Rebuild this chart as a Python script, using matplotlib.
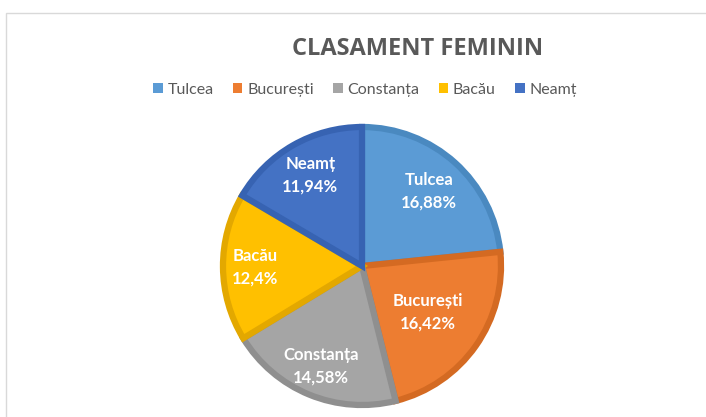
import matplotlib.pyplot as plt
import numpy as np
from matplotlib.patches import Patch, Rectangle

plt.rcParams['font.family'] = ['Lato', 'DejaVu Sans']

# data
judete = ['Tulcea', 'București', 'Constanța', 'Bacău', 'Neamț']
procente = [16.88, 16.42, 14.58, 12.4, 11.94]
etichete = ['16,88%', '16,42%', '14,58%', '12,4%', '11,94%']

culori = ['#5B9BD5', '#ED7D31', '#A5A5A5', '#FFC000', '#4472C4']
margini = ['#4A89C0', '#D46A22', '#8F8F8F', '#E3A800', '#3763B2']
# distance of each label from the centre (fraction of radius)
dist_label = [0.72, 0.58, 0.78, 0.77, 0.75]

W, H = 706, 417
fig = plt.figure(figsize=(W / 100, H / 100), dpi=100)
ax = fig.add_axes([0, 0, 1, 1])

cx, cy, r = 362, H - 266, 139

wedges, _ = ax.pie(procente, colors=culori, startangle=90, counterclock=False,
                   center=(cx, cy), radius=r, explode=[0.012] * 5,
                   wedgeprops=dict(linewidth=4.5, joinstyle='miter'))
for w, c in zip(wedges, margini):
    w.set_edgecolor(c)

# labels inside the slices
for w, nume, et, d in zip(wedges, judete, etichete, dist_label):
    ang = np.deg2rad((w.theta1 + w.theta2) / 2)
    x = cx + d * r * np.cos(ang)
    y = cy + d * r * np.sin(ang)
    ax.text(x, y, nume + '\n' + et, ha='center', va='center', color='white',
            fontsize=12, fontweight='bold', linespacing=1.5)

ax.set_xlim(0, W)
ax.set_ylim(0, H)
ax.set_aspect('equal')
ax.axis('off')

# chart frame
ax.add_patch(Rectangle((6, -20), W, H - 13 + 20, fill=False, edgecolor='#D9D9D9', linewidth=1))

fig.text(418 / W, 1 - 49 / H, 'CLASAMENT FEMININ', ha='center', va='center',
         fontsize=17, fontweight='bold', color='#595959', family='Open Sans')

handles = [Patch(facecolor=c, edgecolor='none') for c in culori]
fig.legend(handles, judete, loc='center', bbox_to_anchor=(365 / W, 1 - 90 / H), ncol=5,
           frameon=False, fontsize=11.5, labelcolor='#595959', handlelength=0.6,
           handleheight=0.6, handletextpad=0.3, columnspacing=1.2)

fig.savefig('out.png', dpi=100)
